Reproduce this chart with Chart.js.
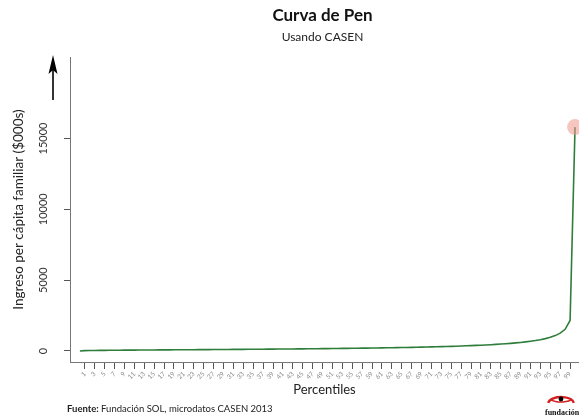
<!DOCTYPE html>
<html>
<head>
<meta charset="utf-8">
<script src="https://cdn.jsdelivr.net/npm/chart.js@4/dist/chart.umd.min.js"></script>
<style>
html,body{margin:0;padding:0;background:#fff;}
#wrap{width:579px;height:418px;position:relative;}
</style>
</head>
<body>
<div id="wrap"><canvas id="c" width="579" height="418"></canvas></div>
<script>
// Percentile index (0..100)
const percentiles = [0,1,2,3,4,5,6,7,8,9,10,11,12,13,14,15,16,17,18,19,20,21,22,23,24,25,26,27,28,29,30,31,32,33,34,35,36,37,38,39,40,41,42,43,44,45,46,47,48,49,50,51,52,53,54,55,56,57,58,59,60,61,62,63,64,65,66,67,68,69,70,71,72,73,74,75,76,77,78,79,80,81,82,83,84,85,86,87,88,89,90,91,92,93,94,95,96,97,98,99,100];
// Ingreso per cápita familiar ($000s) (estimated)
const income = [0,20,28,33,38,42,46,49,52,55,58,61,63,66,68,71,73,75,78,80,82,85,87,89,92,94,96,99,101,104,106,109,111,114,116,119,122,125,127,130,133,136,139,142,146,149,152,156,159,163,167,171,175,179,183,187,192,197,201,206,212,217,223,229,235,241,248,255,262,270,278,287,296,305,315,326,337,349,362,376,391,407,424,443,463,486,510,537,567,601,640,684,735,796,870,962,1083,1254,1530,2150,15800];
// Axis tick labels
const xTickLabels = [1,3,5,7,9,11,13,15,17,19,21,23,25,27,29,31,33,35,37,39,41,43,45,47,49,51,53,55,57,59,61,63,65,67,69,71,73,75,77,79,81,83,85,87,89,91,93,95,97,99];
const yTickLabels = [0,5000,10000,15000];
const titleText = 'Curva de Pen';
const subtitleText = 'Usando CASEN';

const FONT = 'Lato, "Open Sans", sans-serif';

const decor = {
  id: 'decor',
  afterDraw(chart) {
    const ctx = chart.ctx;
    const ca = chart.chartArea;
    const cx = (ca.left + ca.right) / 2 - 2;
    ctx.save();
    // titles centred over the plot area
    ctx.textAlign = 'center';
    ctx.textBaseline = 'middle';
    ctx.fillStyle = '#111';
    ctx.font = 'bold 17px ' + FONT;
    ctx.fillText(titleText, cx, 16);
    ctx.fillStyle = '#222';
    ctx.font = '12px ' + FONT;
    ctx.fillText(subtitleText, cx, 37);
    // arrow next to y axis
    ctx.strokeStyle = '#000';
    ctx.fillStyle = '#000';
    ctx.lineWidth = 1.6;
    ctx.beginPath();
    ctx.moveTo(53, 100);
    ctx.lineTo(53, 66);
    ctx.stroke();
    ctx.beginPath();
    ctx.moveTo(53, 55);
    ctx.lineTo(48.5, 74);
    ctx.lineTo(53, 70);
    ctx.lineTo(57.5, 74);
    ctx.closePath();
    ctx.fill();
    // footer
    ctx.textBaseline = 'middle';
    ctx.textAlign = 'left';
    ctx.fillStyle = '#222';
    ctx.font = 'bold 9.5px ' + FONT;
    const lbl = 'Fuente:';
    ctx.fillText(lbl, 67, 409);
    const w = ctx.measureText(lbl + ' ').width;
    ctx.font = '9.5px ' + FONT;
    ctx.fillText('Fundación SOL, microdatos CASEN 2013', 67 + w, 409);
    // logo
    ctx.strokeStyle = '#d42020';
    ctx.lineWidth = 2.4;
    ctx.beginPath();
    ctx.ellipse(561, 404, 13, 7, 0, Math.PI * 1.05, Math.PI * 1.95);
    ctx.stroke();
    ctx.lineWidth = 1.6;
    ctx.beginPath();
    ctx.ellipse(561, 397, 12, 5, 0, Math.PI * 0.15, Math.PI * 0.85);
    ctx.stroke();
    ctx.fillStyle = '#000';
    ctx.beginPath();
    ctx.arc(561, 399, 2.4, 0, Math.PI * 2);
    ctx.fill();
    ctx.font = 'bold 8px "Liberation Serif", serif';
    ctx.fillStyle = '#111';
    ctx.fillText('fundación', 545, 413);
    const fw = ctx.measureText('fundación').width;
    ctx.fillStyle = '#d42020';
    ctx.fillText('sol', 545 + fw, 413);
    ctx.restore();
  }
};

new Chart(document.getElementById('c'), {
  type: 'line',
  data: {
    datasets: [{
      data: percentiles.map((p, i) => ({x: p, y: income[i]})),
      borderColor: '#2f7d3a',
      borderWidth: 1.6,
      tension: 0,
      pointRadius: ctx => ctx.dataIndex === income.length - 1 ? 8 : 0,
      pointBackgroundColor: 'rgba(240,150,140,0.55)',
      pointBorderWidth: 0,
      pointHoverRadius: 0,
      clip: false
    }]
  },
  options: {
    responsive: false,
    animation: false,
    events: [],
    layout: { autoPadding: false, padding: { left: 0, right: 0, top: 57, bottom: 20 } },
    plugins: {
      legend: { display: false },
      tooltip: { enabled: false },
      title: { display: false },
      subtitle: { display: false }
    },
    scales: {
      x: {
        type: 'linear',
        min: -2,
        max: 100.8,
        afterBuildTicks: s => { s.ticks = xTickLabels.map(v => ({value: v})); },
        afterFit: s => { s.height = 36; s.paddingLeft = 0; s.paddingRight = 0; },
        grid: { display: true, drawOnChartArea: false, drawTicks: true, tickLength: 7, color: '#555' },
        border: { display: true, color: '#777', width: 1 },
        ticks: {
          autoSkip: false,
          minRotation: 45, maxRotation: 45,
          padding: 1,
          color: '#8a8a8a',
          font: { family: FONT, size: 6.5 },
          callback: v => String(v)
        },
        title: {
          display: true,
          text: 'Percentiles',
          color: '#222',
          font: { family: FONT, size: 13 },
          padding: { top: 0, bottom: 0 }
        }
      },
      y: {
        type: 'linear',
        min: -780,
        max: 20750,
        afterBuildTicks: s => { s.ticks = yTickLabels.map(v => ({value: v})); },
        afterFit: s => { s.width = 70; s.paddingTop = 0; s.paddingBottom = 0; },
        grid: { display: true, drawOnChartArea: false, drawTicks: true, tickLength: 6, color: '#555' },
        border: { display: true, color: '#777', width: 1 },
        ticks: {
          autoSkip: false,
          minRotation: 90, maxRotation: 90,
          crossAlign: 'center',
          padding: 5,
          color: '#333',
          font: { family: FONT, size: 11 },
          callback: v => String(v)
        },
        title: {
          display: true,
          text: 'Ingreso per cápita familiar ($000s)',
          color: '#222',
          font: { family: FONT, size: 13.5 },
          padding: { top: 11, bottom: 0 }
        }
      }
    }
  },
  plugins: [decor]
});
</script>
</body>
</html>
